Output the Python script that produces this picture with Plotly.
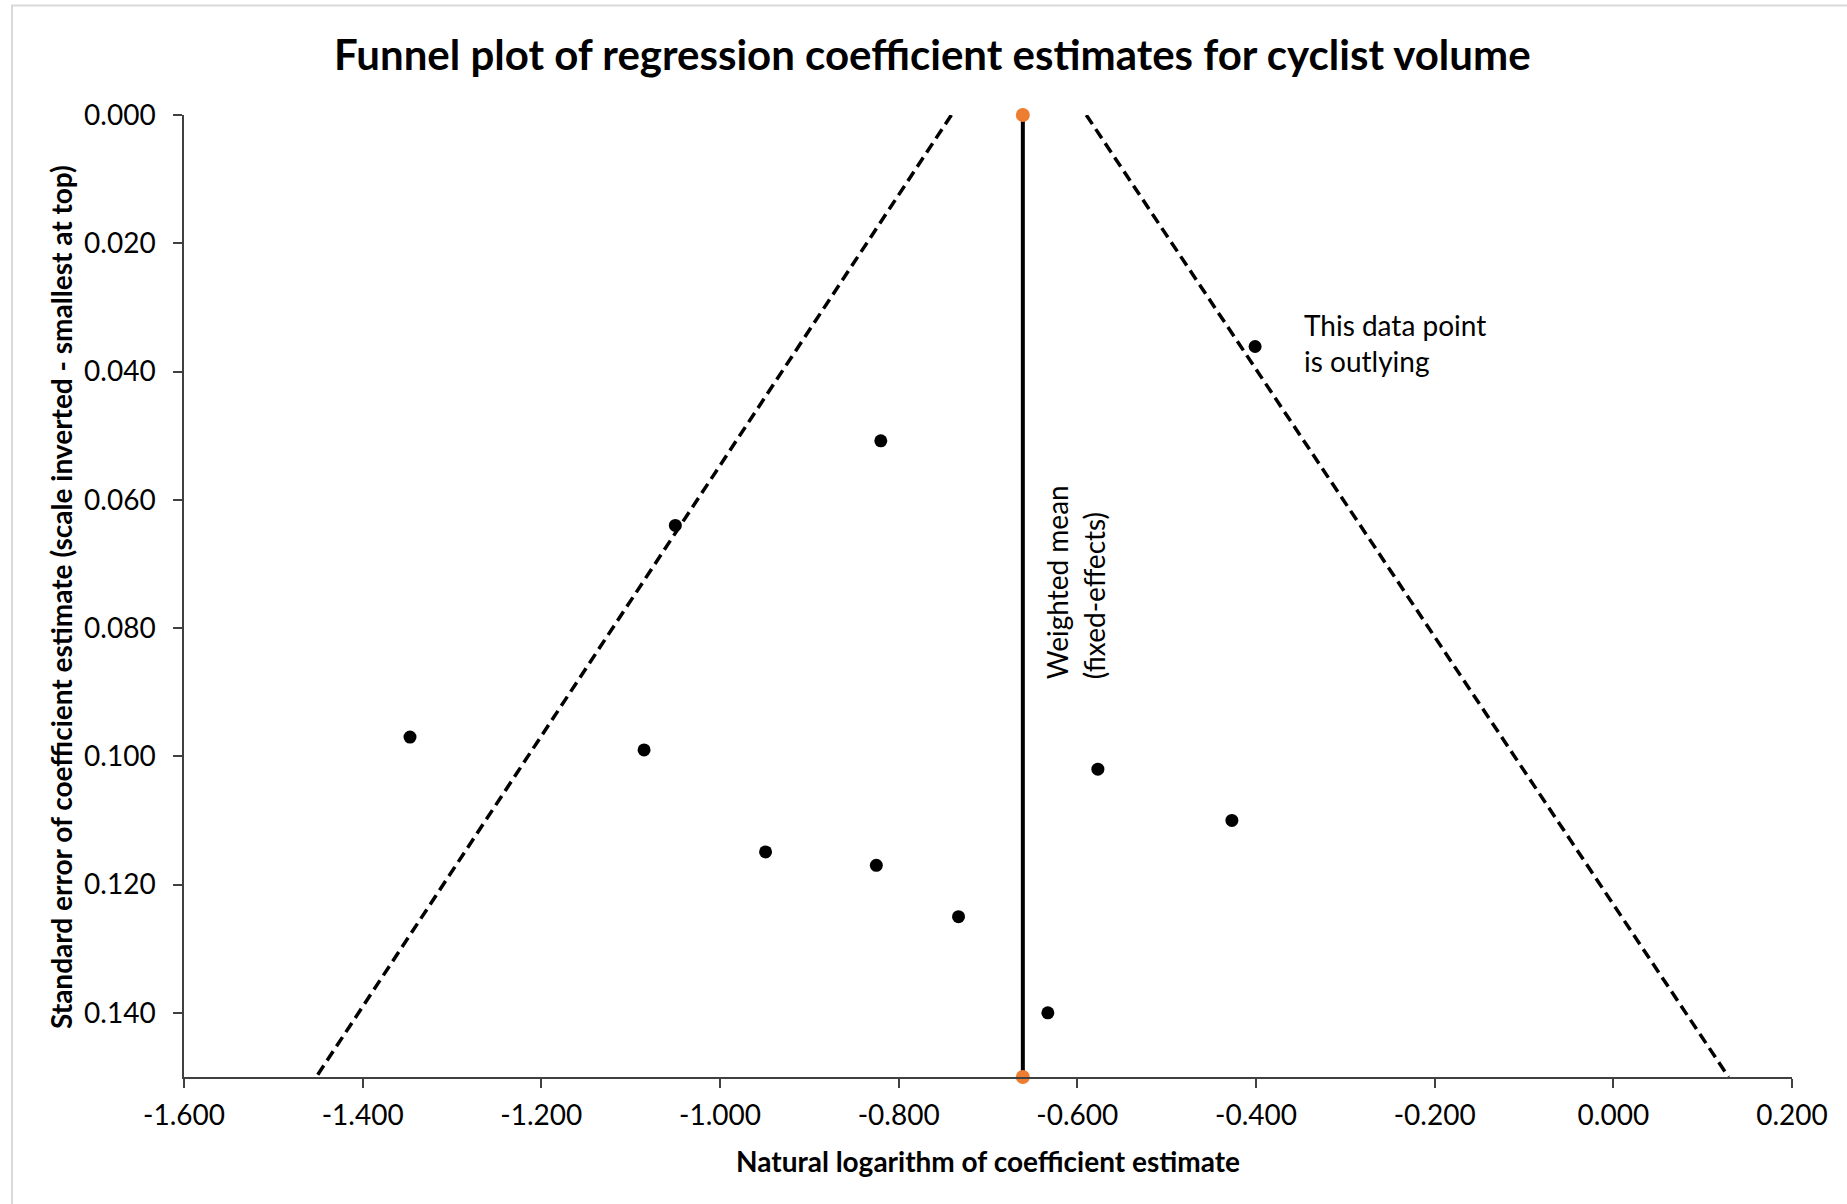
import plotly.graph_objects as go

# ---- data ----
log_coef = [-0.401, -0.820, -1.050, -1.347, -1.085, -0.577, -0.427, -0.949, -0.825, -0.733, -0.633]
std_err = [0.0361, 0.0508, 0.0640, 0.0970, 0.0990, 0.1020, 0.1100, 0.1149, 0.1170, 0.1250, 0.1400]

weighted_mean = -0.661
mean_line_se = [0.0, 0.15]

funnel_left_x = [-0.741, -1.452]
funnel_right_x = [-0.590, 0.129]
funnel_se = [0.0, 0.15]

x_tick_vals = [-1.6, -1.4, -1.2, -1.0, -0.8, -0.6, -0.4, -0.2, 0.0, 0.2]
x_tick_text = ["-1.600", "-1.400", "-1.200", "-1.000", "-0.800", "-0.600", "-0.400", "-0.200", "0.000", "0.200"]
y_tick_vals = [0.0, 0.02, 0.04, 0.06, 0.08, 0.10, 0.12, 0.14]
y_tick_text = ["0.000", "0.020", "0.040", "0.060", "0.080", "0.100", "0.120", "0.140"]

title_text = "Funnel plot of regression coefficient estimates for cyclist volume"
x_title = "Natural logarithm of coefficient estimate"
y_title = "Standard error of coefficient estimate (scale inverted - smallest at top)"

FONT = "Lato, Open Sans, sans-serif"

# layout geometry (pixels)
W, H = 1847, 1204
L, R, T, B = 184, 1792, 115, 1077


def px_x(p):
    return (p - L) / (R - L)


def px_y(p):
    return (B - p) / (B - T)


fig = go.Figure()

# funnel dashed lines
fig.add_trace(go.Scatter(x=funnel_left_x, y=funnel_se, mode="lines",
                         line=dict(color="black", width=3.5, dash="11px,6px"),
                         hoverinfo="skip", showlegend=False))
fig.add_trace(go.Scatter(x=funnel_right_x, y=funnel_se, mode="lines",
                         line=dict(color="black", width=3.5, dash="11px,6px"),
                         hoverinfo="skip", showlegend=False))

# weighted mean line
fig.add_trace(go.Scatter(x=[weighted_mean, weighted_mean], y=mean_line_se, mode="lines",
                         line=dict(color="black", width=4),
                         hoverinfo="skip", showlegend=False))
fig.add_trace(go.Scatter(x=[weighted_mean, weighted_mean], y=mean_line_se, mode="markers",
                         marker=dict(color="#ED7D31", size=14),
                         cliponaxis=False, showlegend=False))

# studies
fig.add_trace(go.Scatter(x=log_coef, y=std_err, mode="markers",
                         marker=dict(color="black", size=13),
                         showlegend=False))

annotations = [
    dict(text=title_text, xref="paper", yref="paper", x=px_x(932), y=px_y(54),
         xanchor="center", yanchor="middle", showarrow=False,
         font=dict(family=FONT, size=42, color="black", weight="bold")),
    dict(text=x_title, xref="paper", yref="paper", x=px_x(988), y=px_y(1161),
         xanchor="center", yanchor="middle", showarrow=False,
         font=dict(family=FONT, size=28, color="black", weight="bold")),
    dict(text=y_title, xref="paper", yref="paper", x=px_x(61), y=px_y(597),
         xanchor="center", yanchor="middle", showarrow=False, textangle=-90,
         font=dict(family=FONT, size=28, color="black", weight="bold")),
    dict(text="This data point<br>is outlying", xref="x", yref="y",
         x=-0.349, y=0.0356, xanchor="left", yanchor="middle", align="left",
         showarrow=False, font=dict(family=FONT, size=28, color="black")),
    dict(text="Weighted mean<br>(fixed-effects)", xref="x", yref="y",
         x=-0.603, y=0.0729, xanchor="center", yanchor="middle", align="left",
         textangle=-90, showarrow=False, font=dict(family=FONT, size=28, color="black")),
]

fig.update_layout(
    width=W, height=H,
    margin=dict(l=L, r=W - R, t=T, b=H - B, pad=0),
    paper_bgcolor="white", plot_bgcolor="white",
    font=dict(family=FONT, color="black"),
    annotations=annotations,
    shapes=[dict(type="rect", xref="paper", yref="paper",
                 x0=px_x(12), x1=px_x(1900), y0=px_y(1260), y1=px_y(5.5),
                 line=dict(color="#d9d9d9", width=2), layer="below")],
)

fig.update_xaxes(range=[-1.6, 0.2], tickvals=x_tick_vals, ticktext=x_tick_text,
                 showgrid=False, zeroline=False, showline=True, linecolor="#404040", linewidth=1.5,
                 ticks="outside", ticklen=9, tickcolor="#404040", tickwidth=1.5,
                 ticklabelstandoff=4,
                 tickfont=dict(family=FONT, size=28, color="black"))
fig.update_yaxes(range=[0.15, 0.0], tickvals=y_tick_vals, ticktext=y_tick_text,
                 showgrid=False, zeroline=False, showline=True, linecolor="#404040", linewidth=1.5,
                 ticks="outside", ticklen=9, tickcolor="#404040", tickwidth=1.5,
                 ticklabelstandoff=12,
                 tickfont=dict(family=FONT, size=28, color="black"))

fig.write_html("out.html")
